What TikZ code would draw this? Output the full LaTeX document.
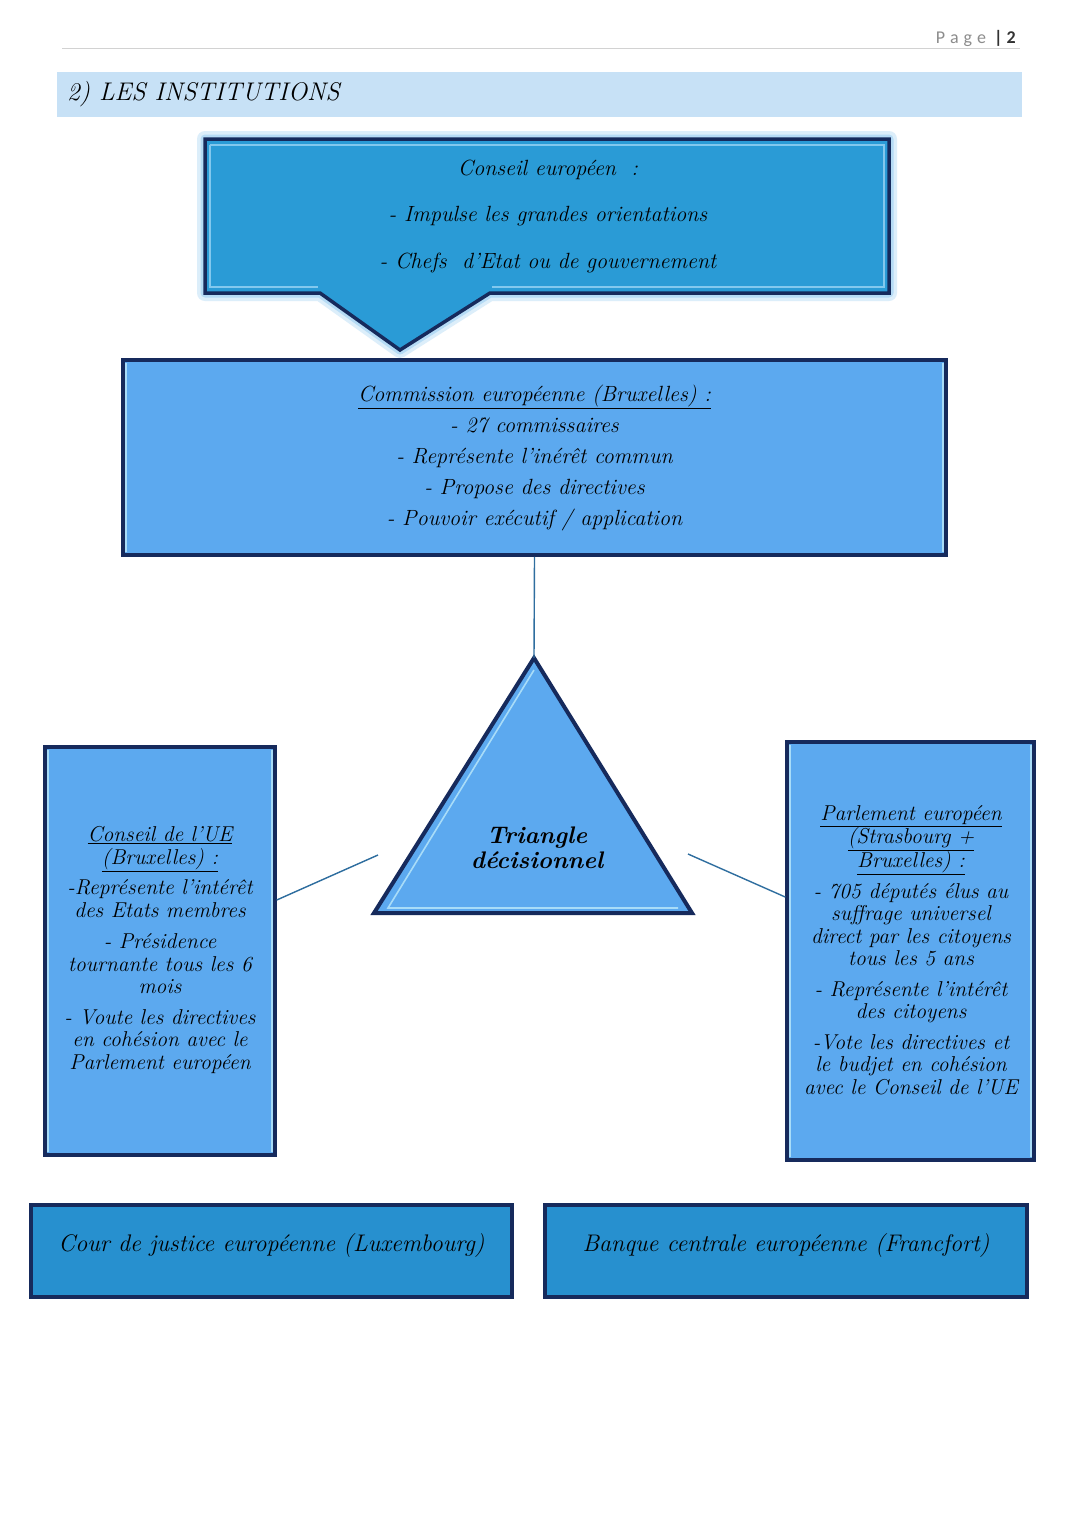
\documentclass[tikz,border=0pt]{standalone}
\usepackage{fontspec}
\newfontfamily\hdr{Carlito}
\usetikzlibrary{calc}
\definecolor{navy}{HTML}{162A5C}
\definecolor{calloutblue}{HTML}{2A9BD6}
\definecolor{boxblue}{HTML}{5CA9EF}
\definecolor{lowblue}{HTML}{2790CF}
\definecolor{bandblue}{HTML}{C7E1F6}
\definecolor{edgecyan}{HTML}{A8DCF8}
\definecolor{linkblue}{HTML}{2F6E9F}
\definecolor{glow}{HTML}{9CCFF3}
\definecolor{hdrgray}{HTML}{8C8C8C}
\begin{document}
\begin{tikzpicture}[x=1pt,y=-1pt,
  inst/.style={draw=navy, line width=3.5pt, fill=boxblue, rectangle, inner sep=0pt,
    align=center, text=black},
  sidetext/.style={font=\itshape\fontsize{21.5}{22.5}\selectfont},
  link/.style={draw=linkblue, line width=1.4pt},
  bevel/.style={draw=edgecyan, line width=1.6pt},
]
\useasboundingbox (0,0) rectangle (1080,1527);
\fill[white] (0,0) rectangle (1080,1527);

% header
\coordinate (hl) at (62,48);
\coordinate (hr) at (1020,48);
\draw[gray!35, line width=0.8pt] (hl) -- (hr);
\node[anchor=east, inner sep=0pt] (page) at (1016,38)
  {\hdr\fontsize{18}{18}\selectfont\color{hdrgray}P\hspace{5pt}a\hspace{5pt}g\hspace{5pt}e\hspace{8pt}\color{black!80}\textbf{|\hspace{4pt}2}};

% title band
\node[fill=bandblue, minimum width=965pt, minimum height=45pt, inner sep=0pt] (band) at (539.5,94.5) {};
\node[anchor=west, inner sep=0pt, font=\itshape\fontsize{25.5}{25.5}\selectfont] (title) at (67,94)
  {2) LES INSTITUTIONS};

% Conseil europeen callout
\coordinate (c1) at (205,139);
\coordinate (c2) at (889,139);
\coordinate (c3) at (889,293);
\coordinate (c4) at (490,293);
\coordinate (tip) at (400,350);
\coordinate (c5) at (320,293);
\coordinate (c6) at (205,293);
\draw[glow, line width=16pt, opacity=0.35, line join=round] (c1)--(c2)--(c3)--(c4)--(tip)--(c5)--(c6)--cycle;
\draw[glow, line width=9pt, opacity=0.6, line join=round] (c1)--(c2)--(c3)--(c4)--(tip)--(c5)--(c6)--cycle;
\draw[navy, fill=calloutblue, line width=3.5pt, line join=miter] (c1)--(c2)--(c3)--(c4)--(tip)--(c5)--(c6)--cycle;
\draw[edgecyan!70!calloutblue, line width=1.2pt] ($(c1)+(5,6)$) -- ($(c2)+(-5,6)$) -- ($(c3)+(-5,-6)$) -- ($(c4)+(2,-6)$);
\draw[edgecyan!70!calloutblue, line width=1.2pt] ($(c1)+(5,6)$) -- ($(c6)+(5,-6)$) -- ($(c5)+(-2,-6)$);
\node[align=center, inner sep=0pt, font=\itshape\fontsize{22}{46.5}\selectfont] (ce) at (548,216)
  {Conseil européen~~:\\
   - Impulse les grandes orientations\\
   - Chefs~~d'Etat ou de gouvernement};

% Commission
\node[inst, minimum width=823pt, minimum height=195pt, font=\itshape\fontsize{22}{31}\selectfont] (comm) at (534.5,457.5)
  {\underline{Commission européenne (Bruxelles) :}\\
   - 27 commissaires\\
   - Représente l'inérêt commun\\
   - Propose des directives\\
   - Pouvoir exécutif / application};
\draw[bevel] ($(comm.north west)+(5,5)$) -- ($(comm.south west)+(5,-5)$);
\draw[bevel] ($(comm.north east)+(-5,5)$) -- ($(comm.south east)+(-5,-5)$);

% Triangle
\coordinate (apex) at (534,658);
\coordinate (bl) at (374,913);
\coordinate (br) at (692,913);
\draw[navy, fill=boxblue, line width=4pt, line join=miter] (apex)--(br)--(bl)--cycle;
\draw[bevel] ($(apex)+(0,12)$) -- ($(bl)+(14,-5)$) -- ($(br)+(-14,-5)$);
\node[align=center, inner sep=0pt, font=\bfseries\itshape\fontsize{24}{25}\selectfont] (tri) at (537,848)
  {Triangle\\décisionnel};

% Conseil de l'UE
\node[inst, minimum width=230pt, minimum height=408pt] (cue) at (160,951) {};
\draw[bevel] ($(cue.north west)+(5,5)$) -- ($(cue.south west)+(5,-5)$);
\draw[bevel] ($(cue.north east)+(-5,5)$) -- ($(cue.south east)+(-5,-5)$);
\node[align=center, inner sep=0pt, sidetext] (cuet) at (160,950)
  {\underline{Conseil de l'UE}\\
   \underline{(Bruxelles) :}\\[8pt]
   -Représente l'intérêt\\
   des Etats membres\\[9pt]
   - Présidence\\
   tournante tous les 6\\
   mois\\[8pt]
   - Voute les directives\\
   en cohésion avec le\\
   Parlement européen};

% Parlement europeen
\node[inst, minimum width=247pt, minimum height=418pt] (par) at (910.5,951) {};
\draw[bevel] ($(par.north west)+(5,5)$) -- ($(par.south west)+(5,-5)$);
\draw[bevel] ($(par.north east)+(-5,5)$) -- ($(par.south east)+(-5,-5)$);
\node[align=center, inner sep=0pt, sidetext] (part) at (911,950)
  {\underline{Parlement européen}\\
   \underline{(Strasbourg +}\\
   \underline{Bruxelles) :}\\[8pt]
   - 705 députés élus au\\
   suffrage universel\\
   direct par les citoyens\\
   tous les 5 ans\\[8pt]
   - Représente l'intérêt\\
   des citoyens\\[8pt]
   -Vote les directives et\\
   le budjet en cohésion\\
   avec le Conseil de l'UE};

% connectors
\draw[link] (comm.south) -- (apex);
\coordinate (lt) at (378,855);
\path (0,900) coordinate (y900);
\draw[link] (lt) -- (cue.east |- y900);
\coordinate (rt) at (688,854);
\path (0,897) coordinate (y897);
\draw[link] (rt) -- (par.west |- y897);

% bottom boxes
\node[inst, fill=lowblue, minimum width=481pt, minimum height=92pt] (cour) at (271.5,1251) {};
\node[inner sep=0pt, font=\itshape\fontsize{24}{24}\selectfont] (court) at (271.5,1245)
  {Cour de justice européenne (Luxembourg)};
\node[inst, fill=lowblue, minimum width=482pt, minimum height=92pt] (bce) at (786,1251) {};
\node[inner sep=0pt, font=\itshape\fontsize{24}{24}\selectfont] (bcet) at (786,1245)
  {Banque centrale européenne (Francfort)};
\end{tikzpicture}
\end{document}
